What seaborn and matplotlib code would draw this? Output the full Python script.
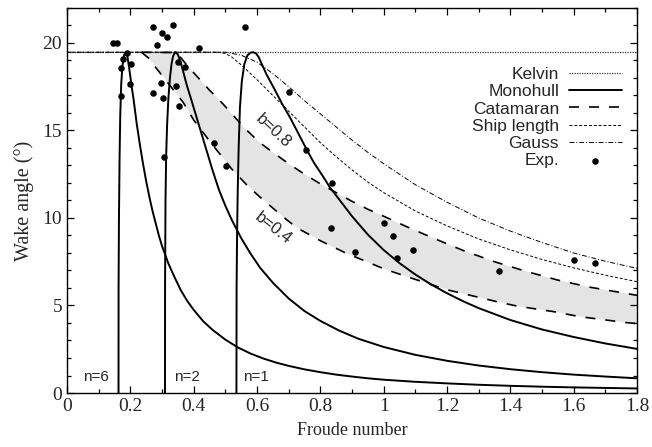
import numpy as np
import pandas as pd
import matplotlib
matplotlib.use("Agg")
import matplotlib.pyplot as plt
import seaborn as sns
from matplotlib.ticker import MultipleLocator, FixedLocator, FixedFormatter

# Kelvin angle
kelvin_x = [0.0, 1.8]
kelvin_y = [19.47, 19.47]

# Monohull curves (n=6, n=2, n=1)
mono6_x = [0.1626, 0.1628, 0.164, 0.166, 0.168, 0.171, 0.175, 0.180, 0.185, 0.190, 0.196,
           0.205, 0.21, 0.22, 0.23, 0.24, 0.25, 0.26, 0.27, 0.28, 0.29, 0.30, 0.32, 0.34,
           0.36, 0.38, 0.40, 0.43, 0.46, 0.50, 0.54, 0.58, 0.62, 0.66, 0.70, 0.75, 0.80,
           0.85, 0.90, 0.95, 1.00, 1.1, 1.2, 1.3, 1.4, 1.5, 1.6, 1.7, 1.8]
mono6_y = [0.0, 6.0, 10.0, 13.5, 15.8, 17.6, 18.7, 19.3, 19.47, 19.3, 18.6,
           17.4, 16.8, 15.4, 14.2, 13.1, 12.1, 11.2, 10.4, 9.7, 9.0, 8.4, 7.4, 6.6,
           5.85, 5.25, 4.75, 4.1, 3.6, 3.05, 2.6, 2.25, 1.97, 1.74, 1.55, 1.35, 1.19,
           1.05, 0.94, 0.84, 0.76, 0.64, 0.55, 0.47, 0.41, 0.36, 0.32, 0.29, 0.26]
mono2_x = [0.3094, 0.3096, 0.311, 0.313, 0.316, 0.320, 0.325, 0.330, 0.335, 0.341, 0.35,
           0.357, 0.365, 0.378, 0.39, 0.40, 0.42, 0.44, 0.46, 0.48, 0.50, 0.52, 0.55,
           0.58, 0.61, 0.65, 0.70, 0.75, 0.80, 0.86, 0.92, 1.0, 1.1, 1.2, 1.3, 1.4,
           1.5, 1.6, 1.7, 1.8]
mono2_y = [0.0, 6.0, 11.0, 13.5, 15.3, 16.8, 18.0, 18.8, 19.25, 19.47, 19.35,
           19.0, 18.5, 17.6, 16.9, 16.3, 15.1, 13.9, 12.7, 11.6, 10.7, 9.9, 8.85,
           7.95, 7.15, 6.3, 5.4, 4.68, 4.12, 3.56, 3.1, 2.63, 2.18, 1.84, 1.57, 1.36,
           1.19, 1.05, 0.94, 0.84]
mono1_x = [0.535, 0.5355, 0.537, 0.539, 0.542, 0.546, 0.552, 0.560, 0.570, 0.580, 0.588,
           0.597, 0.605, 0.615, 0.63, 0.651, 0.68, 0.704, 0.73, 0.757, 0.78, 0.809,
           0.83, 0.862, 0.90, 0.95, 1.0, 1.05, 1.1, 1.15, 1.2, 1.25, 1.3, 1.4, 1.5,
           1.6, 1.7, 1.8]
mono1_y = [0.0, 6.0, 9.0, 11.5, 14.0, 16.3, 17.8, 18.8, 19.3, 19.45, 19.47,
           19.4, 19.2, 18.8, 18.2, 17.5, 16.5, 15.75, 14.85, 13.9, 13.15, 12.36,
           11.75, 11.0, 10.1, 9.05, 8.17, 7.42, 6.77, 6.2, 5.7, 5.25, 4.85, 4.17, 3.63,
           3.2, 2.83, 2.52]

# Catamaran, b=0.8 and b=0.4
cat08_x = [0.235, 0.341, 0.36, 0.378, 0.40, 0.420, 0.45, 0.473, 0.515, 0.557, 0.609,
           0.65, 0.70, 0.75, 0.80, 0.85, 0.90, 0.95, 1.0, 1.073, 1.15, 1.25, 1.35,
           1.45, 1.55, 1.65, 1.80]
cat08_y = [19.47, 19.45, 19.15, 18.74, 18.3, 17.9, 17.3, 16.9, 16.07, 15.2, 14.3,
           13.75, 13.1, 12.5, 11.95, 11.45, 10.95, 10.5, 10.1, 9.5, 8.9, 8.15, 7.5,
           6.95, 6.45, 6.05, 5.58]
cat04_x = [0.235, 0.260, 0.280, 0.315, 0.367, 0.400, 0.450, 0.520, 0.567, 0.609, 0.680,
           0.725, 0.800, 0.880, 1.000, 1.073, 1.200, 1.357, 1.420, 1.536, 1.620, 1.767, 1.80]
cat04_y = [19.47, 19.1, 18.6, 17.8, 16.6, 15.6, 14.4, 12.8, 11.9, 11.2, 10.1,
           9.45, 8.7, 8.0, 7.1, 6.65, 5.9, 5.22, 4.97, 4.65, 4.36, 4.02, 3.97]

# Ship length and Gauss models
ship_x = [0.0, 0.48, 0.50, 0.52, 0.55, 0.60, 0.65, 0.70, 0.75, 0.80, 0.85, 0.90, 0.95,
          1.0, 1.1, 1.2, 1.3, 1.4, 1.5, 1.6, 1.7, 1.8]
ship_y = [19.47, 19.47, 19.4, 19.2, 18.75, 17.9, 17.0, 16.1, 15.2, 14.3, 13.5, 12.75,
          12.05, 11.45, 10.4, 9.55, 8.8, 8.18, 7.63, 7.15, 6.73, 6.36]
gauss_x = [0.0, 0.50, 0.55, 0.60, 0.65, 0.70, 0.75, 0.80, 0.85, 0.90, 0.95, 1.0, 1.1,
           1.2, 1.3, 1.4, 1.5, 1.6, 1.7, 1.8]
gauss_y = [19.47, 19.47, 19.3, 18.9, 18.25, 17.5, 16.7, 15.95, 15.2, 14.45, 13.75, 13.1,
           11.9, 10.9, 10.0, 9.25, 8.6, 8.0, 7.53, 7.12]

# Experimental points
exp_x = [0.144, 0.157, 0.188, 0.176, 0.202, 0.170, 0.199, 0.170, 0.299, 0.317, 0.283,
         0.418, 0.349, 0.373, 0.297, 0.272, 0.302, 0.344, 0.354, 0.307, 0.465, 0.502,
         0.271, 0.334, 0.563, 0.700, 0.755, 0.836, 0.833, 0.909, 1.002, 1.031, 1.041,
         1.092, 1.364, 1.602, 1.667]
exp_y = [19.98, 19.98, 19.41, 19.07, 18.82, 18.55, 17.66, 16.97, 20.55, 20.36, 19.9,
         19.71, 18.93, 18.6, 17.7, 17.13, 16.88, 17.56, 16.4, 13.47, 14.27, 12.97,
         20.93, 21.03, 20.93, 17.22, 13.89, 11.98, 9.41, 8.07, 9.73, 8.99, 7.7,
         8.17, 6.97, 7.6, 7.41]

x_ticks = [0, 0.2, 0.4, 0.6, 0.8, 1.0, 1.2, 1.4, 1.6, 1.8]
x_tick_labels = ["0", "0.2", "0.4", "0.6", "0.8", "1", "1.2", "1.4", "1.6", "1.8"]
y_ticks = [0, 5, 10, 15, 20]

sns.set_style("ticks")
plt.rcParams["font.family"] = ["Liberation Serif", "DejaVu Serif"]
plt.rcParams["xtick.direction"] = "in"
plt.rcParams["ytick.direction"] = "in"

fig = plt.figure(figsize=(6.52, 4.47), dpi=100)
ax = fig.add_axes([0.1028, 0.1208, 0.8742, 0.8614])

# shaded catamaran band
band_x = np.concatenate([cat08_x, cat04_x[::-1]])
band_y = np.concatenate([cat08_y, cat04_y[::-1]])
ax.fill(band_x, band_y, color="#e4e4e4", lw=0, zorder=0)

def curve(x, y, **kw):
    sns.lineplot(x=x, y=y, sort=False, estimator=None, ax=ax, **kw)

curve(kelvin_x, kelvin_y, color="#333333", lw=0.9, linestyle=(0, (1, 1)), label="Kelvin")
curve(mono6_x, mono6_y, color="black", lw=1.4, label="Monohull")
curve(mono2_x, mono2_y, color="black", lw=1.4)
curve(mono1_x, mono1_y, color="black", lw=1.4)
curve(cat08_x, cat08_y, color="black", lw=1.2, linestyle=(0, (6, 6)), label="Catamaran")
curve(cat04_x, cat04_y, color="black", lw=1.2, linestyle=(0, (6, 6)))
curve(ship_x, ship_y, color="black", lw=0.7, linestyle=(0, (3, 2)), label="Ship length")
curve(gauss_x, gauss_y, color="black", lw=0.7, linestyle=(0, (5, 2, 1, 2)), label="Gauss")
sns.scatterplot(x=exp_x, y=exp_y, color="black", s=22, linewidth=0, ax=ax, label="Exp.", zorder=5)

ax.set_xlim(0, 1.8)
ax.set_ylim(0, 22)
ax.xaxis.set_major_locator(FixedLocator(x_ticks))
ax.xaxis.set_major_formatter(FixedFormatter(x_tick_labels))
ax.xaxis.set_minor_locator(MultipleLocator(0.1))
ax.yaxis.set_major_locator(FixedLocator(y_ticks))
ax.yaxis.set_minor_locator(MultipleLocator(1))
ax.tick_params(which="both", top=True, right=True, labelsize=14, width=0.9, color="black")
ax.tick_params(which="major", length=5)
ax.tick_params(which="minor", length=3)
for s in ax.spines.values():
    s.set_linewidth(1.0)
    s.set_color("black")

ax.set_xlabel("Froude number", fontsize=13, labelpad=5)
ax.set_ylabel("Wake angle (°)", fontsize=14.5, labelpad=6)

sans = ["Liberation Sans", "DejaVu Sans"]
ax.text(0.091, 0.9, "n=6", family=sans, fontsize=11, ha="center", va="center")
ax.text(0.379, 0.9, "n=2", family=sans, fontsize=11, ha="center", va="center")
ax.text(0.597, 0.9, "n=1", family=sans, fontsize=11, ha="center", va="center")
ax.text(0.65, 14.97, "b=0.8", family=sans, fontsize=12, ha="center", va="center", rotation=-43)
ax.text(0.65, 9.4, "b=0.4", family=sans, fontsize=12, ha="center", va="center", rotation=-38)

leg = ax.legend(loc="upper right", bbox_to_anchor=(0.985, 0.865), frameon=False,
                markerfirst=False, handlelength=3.0, handletextpad=0.6,
                labelspacing=0.12, borderaxespad=0, prop={"family": sans, "size": 12.5})

fig.savefig("out.png", dpi=100)
